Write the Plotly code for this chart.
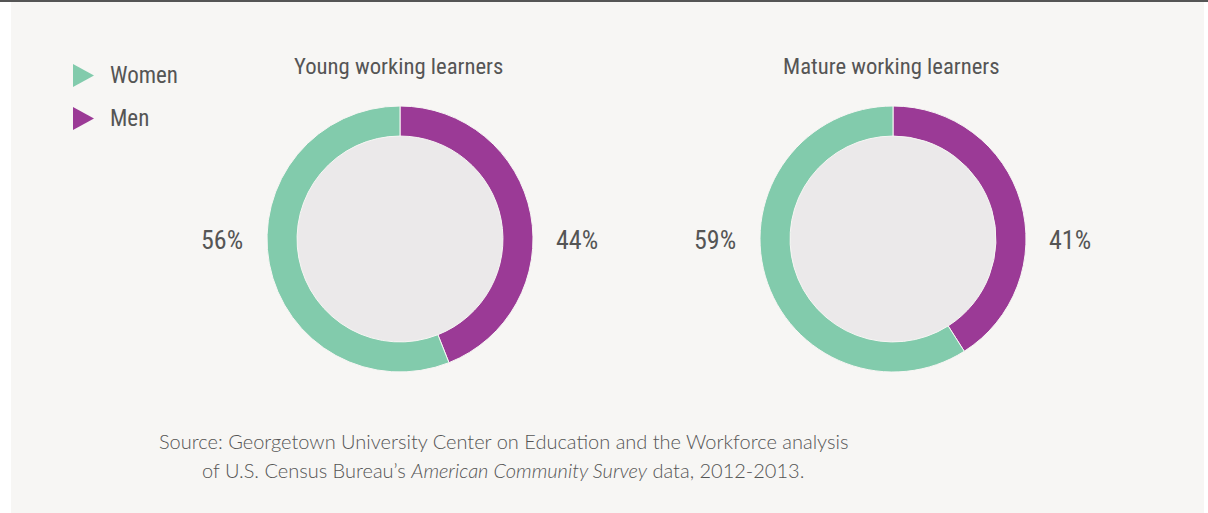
import plotly.graph_objects as go

# ---- data ----
groups = ["Young working learners", "Mature working learners"]
categories = ["Men", "Women"]
men_share = [44, 41]
women_share = [56, 59]
legend_labels = ["Women", "Men"]
source_line1 = "Source: Georgetown University Center on Education and the Workforce analysis"
source_line2 = "of U.S. Census Bureau\u2019s <i>American Community Survey</i> data, 2012-2013."

# ---- style ----
W, H = 1208, 513
BG = "#f7f6f4"
GREEN = "#82cbac"
PURPLE = "#9b3a96"
INNER = "#ebe9ea"
TXT = "#555555"
COND = "Roboto Condensed, Open Sans Condensed, sans-serif"
LIGHT = "Lato, Open Sans, sans-serif"

centers = [(400, 239), (893, 239)]
radius = 133
hole = 0.774

fig = go.Figure()

fig.add_shape(type="rect", xref="paper", yref="paper", x0=11 / W, x1=1204 / W, y0=0, y1=1,
              fillcolor=BG, line_width=0, layer="below")
fig.add_shape(type="rect", xref="paper", yref="paper", x0=0, x1=1, y0=1 - 2 / H, y1=1,
              fillcolor="#555555", line_width=0, layer="below")

for i, g in enumerate(groups):
    cx, cy = centers[i]
    x0, x1 = (cx - radius) / W, (cx + radius) / W
    y0, y1 = (H - cy - radius) / H, (H - cy + radius) / H
    r_in = radius * hole
    fig.add_shape(type="circle", xref="paper", yref="paper",
                  x0=(cx - r_in) / W, x1=(cx + r_in) / W,
                  y0=(H - cy - r_in) / H, y1=(H - cy + r_in) / H,
                  fillcolor=INNER, line_width=0, layer="below")
    fig.add_trace(go.Pie(
        labels=categories, values=[men_share[i], women_share[i]],
        hole=hole, sort=False, direction="clockwise", rotation=0,
        marker=dict(colors=[PURPLE, GREEN], line=dict(color=BG, width=1)),
        textinfo="none", hoverinfo="label+percent", showlegend=False,
        domain=dict(x=[x0, x1], y=[y0, y1]),
    ))
    fig.add_annotation(xref="paper", yref="paper", x=(cx - 2) / W, y=1 - 67 / H,
                       text=g, showarrow=False, xanchor="center", yanchor="middle",
                       font=dict(family=COND, size=22.7, color=TXT))
    fig.add_annotation(xref="paper", yref="paper", x=(cx - 178) / W, y=1 - 240 / H,
                       text=f"{women_share[i]}%", showarrow=False, xanchor="center", yanchor="middle",
                       font=dict(family=COND, size=26, color=TXT))
    fig.add_annotation(xref="paper", yref="paper", x=(cx + 177) / W, y=1 - 240 / H,
                       text=f"{men_share[i]}%", showarrow=False, xanchor="center", yanchor="middle",
                       font=dict(family=COND, size=26, color=TXT))

# custom legend: right-pointing triangles + labels
leg_colors = {"Women": GREEN, "Men": PURPLE}
leg_y = [75.5, 118.5]
for lab, yy in zip(legend_labels, leg_y):
    fig.add_shape(type="path", xref="x", yref="y",
                  path=f"M73,{yy - 11.5} L94,{yy} L73,{yy + 11.5} Z",
                  fillcolor=leg_colors[lab], line_width=0)
    fig.add_annotation(x=108, y=yy, xref="x", yref="y", text=lab, showarrow=False,
                       xanchor="left", yanchor="middle",
                       font=dict(family=COND, size=23, color=TXT))

fig.add_annotation(xref="paper", yref="paper", x=503 / W, y=1 - 441 / H, text=source_line1,
                   showarrow=False, xanchor="center", yanchor="middle",
                   font=dict(family=LIGHT, size=20, color=TXT, weight=300))
fig.add_annotation(xref="paper", yref="paper", x=503 / W, y=1 - 470 / H, text=source_line2,
                   showarrow=False, xanchor="center", yanchor="middle",
                   font=dict(family=LIGHT, size=20, color=TXT, weight=300))

fig.update_layout(
    width=W, height=H, margin=dict(l=0, r=0, t=0, b=0),
    paper_bgcolor="white", plot_bgcolor="rgba(0,0,0,0)",
    xaxis=dict(range=[0, W], visible=False, fixedrange=True),
    yaxis=dict(range=[H, 0], visible=False, fixedrange=True),
)

fig.write_html("out.html", config={"displayModeBar": False},
               post_script="document.body.style.margin='0px';")
